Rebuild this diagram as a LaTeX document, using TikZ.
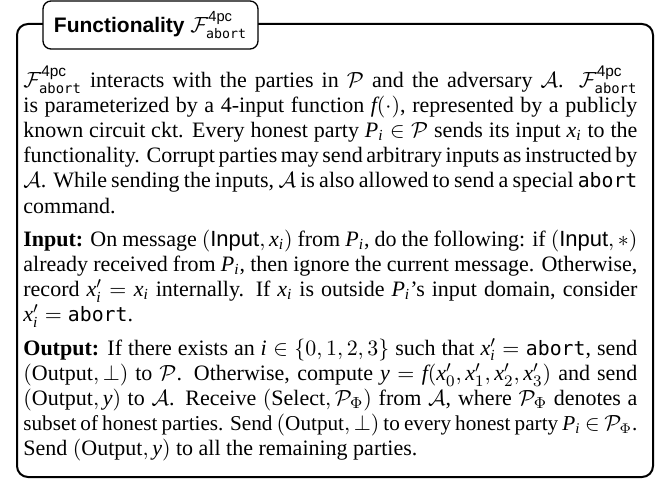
\documentclass[tikz,border=0pt]{standalone}
\usepackage{amsmath}
\usepackage{fontspec}
\setmainfont{Liberation Serif}
\setsansfont{Liberation Sans}
\setmonofont{DejaVu Sans Mono}[Scale=0.9]

% math letters taken from the serif italic
\DeclareSymbolFont{lettersit}{TU}{\rmdefault}{m}{it}
\DeclareMathSymbol{f}{\mathalpha}{lettersit}{`f}
\DeclareMathSymbol{i}{\mathalpha}{lettersit}{`i}
\DeclareMathSymbol{x}{\mathalpha}{lettersit}{`x}
\DeclareMathSymbol{y}{\mathalpha}{lettersit}{`y}
\DeclareMathSymbol{P}{\mathalpha}{lettersit}{`P}

% functionality name and shorthands
\newcommand{\Ffunc}{\mathcal{F}^{\textsf{\mdseries 4pc}}_{\texttt{\mdseries abort}}}
\newcommand{\cP}{\mathcal{P}}
\newcommand{\cA}{\mathcal{A}}
\newcommand{\abrt}{\texttt{abort}}
% a full-width line set a little smaller so that it fits
\newcommand{\tightline}[1]{\hbox to\linewidth{\fontsize{10.6pt}{12.6pt}\selectfont
  \spaceskip=0.25em plus 0.2em minus 0.1em
  \thickmuskip=5mu minus 2mu \medmuskip=4mu minus 1.5mu #1}}

\tikzset{
  frame/.style={draw, line width=1pt, rounded corners=5.5pt},
  titlebox/.style={draw, fill=white, line width=0.65pt, rounded corners=4pt,
    minimum width=107.5pt, minimum height=24pt, inner sep=0pt,
    font=\sffamily\bfseries\fontsize{10.5pt}{12pt}\selectfont},
  bodytext/.style={anchor=base west, inner sep=0pt, text width=307pt,
    align=justify, font=\fontsize{11pt}{12.6pt}\selectfont}
}

\begin{document}
\begin{tikzpicture}[x=0.5pt, y=-0.5pt]
  \useasboundingbox (0,0) rectangle (672,481);
  % outer frame
  \draw[frame] (17,24) rectangle (653,477);
  % heading tab
  \node[titlebox] (title) at (150.5,25) {Functionality $\Ffunc$};
  % description
  \node[bodytext] (body) at (23,87) {%
    \setlength{\parskip}{4pt}%
    \spaceskip=0.25em plus 0.3em minus 0.12em
    $\Ffunc$ interacts with the parties in $\cP$ and the adversary $\cA$. $\Ffunc$\linebreak
    is parameterized by a 4-input function $f(\cdot)$, represented by a publicly\linebreak
    known circuit ckt. Every honest party $P_i \in \cP$ sends its input $x_i$ to the\linebreak
    functionality. Corrupt parties may send arbitrary inputs as instructed by\linebreak
    $\cA$. While sending the inputs, $\cA$ is also allowed to send a special \abrt\linebreak
    command.\par
    \textbf{Input:} On message $(\textsf{Input}, x_i)$ from $P_i$, do the following: if $(\textsf{Input}, *)$\linebreak
    already received from $P_i$, then ignore the current message. Otherwise,\linebreak
    record $x_i' = x_i$ internally. If $x_i$ is outside $P_i$'s input domain, consider\linebreak
    $x_i' = \abrt$.\par
    \textbf{Output:} If there exists an $i \in \{0,1,2,3\}$ such that $x_i' = \abrt$, send\linebreak
    $(\text{Output}, \bot)$ to $\cP$. Otherwise, compute $y = f(x_0', x_1', x_2', x_3')$ and send\linebreak
    $(\text{Output}, y)$ to $\cA$. Receive $(\text{Select}, \cP_\Phi)$ from $\cA$, where $\cP_\Phi$ denotes a\linebreak
    \tightline{subset of honest parties. Send $(\text{Output}, \bot)$ to every honest party $P_i \in \cP_\Phi$.}\linebreak
    Send $(\text{Output}, y)$ to all the remaining parties.%
  };
\end{tikzpicture}
\end{document}
